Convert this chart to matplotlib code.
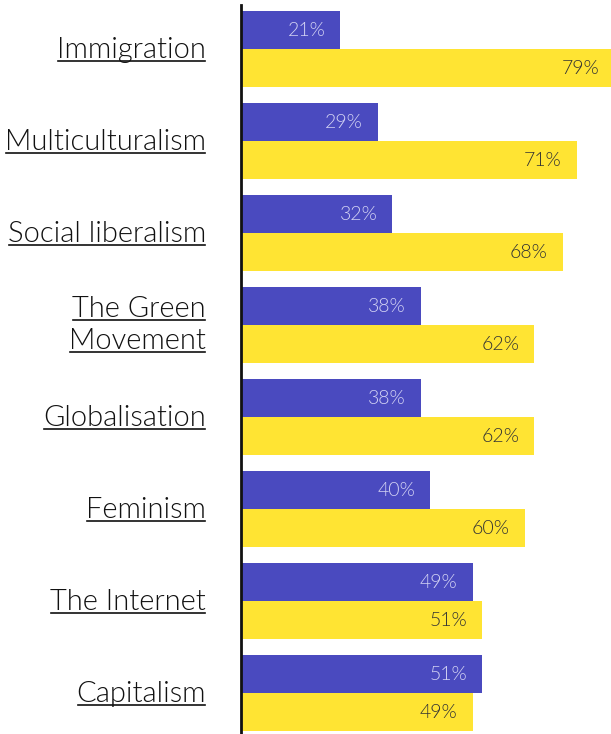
import matplotlib
matplotlib.use('Agg')
import matplotlib.pyplot as plt
from matplotlib import font_manager
from matplotlib.lines import Line2D

categories = ['Immigration', 'Multiculturalism', 'Social liberalism',
              'The Green\nMovement', 'Globalisation', 'Feminism',
              'The Internet', 'Capitalism']
blue_vals = [21, 29, 32, 38, 38, 40, 49, 51]
yellow_vals = [79, 71, 68, 62, 62, 60, 51, 49]

BLUE = '#4a4abf'
YELLOW = '#ffe433'

available = set(f.name for f in font_manager.fontManager.ttflist)
family = 'DejaVu Sans'
for name in ['Lato', 'Noto Sans']:
    if name in available:
        family = name
        break
plt.rcParams['font.family'] = [family, 'DejaVu Sans']

W, H = 611, 734
PX = 4.73          # pixels per percent
GAP = 92           # pixels per group
fig = plt.figure(figsize=(W / 100, H / 100), dpi=100)
ax = fig.add_axes([241 / W, 0, 370 / W, 729 / H])

bh = 38 / GAP
ys = list(range(len(categories)))
ax.barh([y - bh / 2 for y in ys], blue_vals, height=bh, color=BLUE, linewidth=0)
ax.barh([y + bh / 2 for y in ys], yellow_vals, height=bh, color=YELLOW, linewidth=0)

ax.set_xlim(0, 370 / PX)
ax.set_ylim(7 + 41 / GAP, -44 / GAP)
for s in ['top', 'right', 'bottom']:
    ax.spines[s].set_visible(False)
ax.spines['left'].set_linewidth(2)
ax.spines['left'].set_color('#111111')
ax.set_xticks([])
ax.set_yticks([])

pad = 15 / PX
for y, b, yl in zip(ys, blue_vals, yellow_vals):
    ax.text(b - pad, y - bh / 2, '%d%%' % b, ha='right', va='center',
            fontsize=14, color='#d4d4f4', fontweight=300)
    ax.text(yl - pad, y + bh / 2, '%d%%' % yl, ha='right', va='center',
            fontsize=14, color='#333333', fontweight=300)

# category labels, one text per line so each line can be underlined
lab_x = -35 / PX
labels = []
for y, cat in zip(ys, categories):
    lines = cat.split('\n')
    if len(lines) == 1:
        bases = [y + 9 / GAP]
    else:
        bases = [y - 8 / GAP, y + 24 / GAP]
    for line, yb in zip(lines, bases):
        t = ax.text(lab_x, yb, line, ha='right', va='baseline',
                    fontsize=21, color='#111111', fontweight=300)
        labels.append((t, yb))

fig.canvas.draw()
r = fig.canvas.get_renderer()
for t, yb in labels:
    bb = t.get_window_extent(r)
    yd = ax.transData.transform((0, yb))[1] - 3
    fig.add_artist(Line2D([(bb.x0 + 1) / W, (bb.x1 - 1) / W], [yd / H, yd / H],
                          color='#111111', linewidth=1.2))

fig.savefig('out.png', dpi=100)
